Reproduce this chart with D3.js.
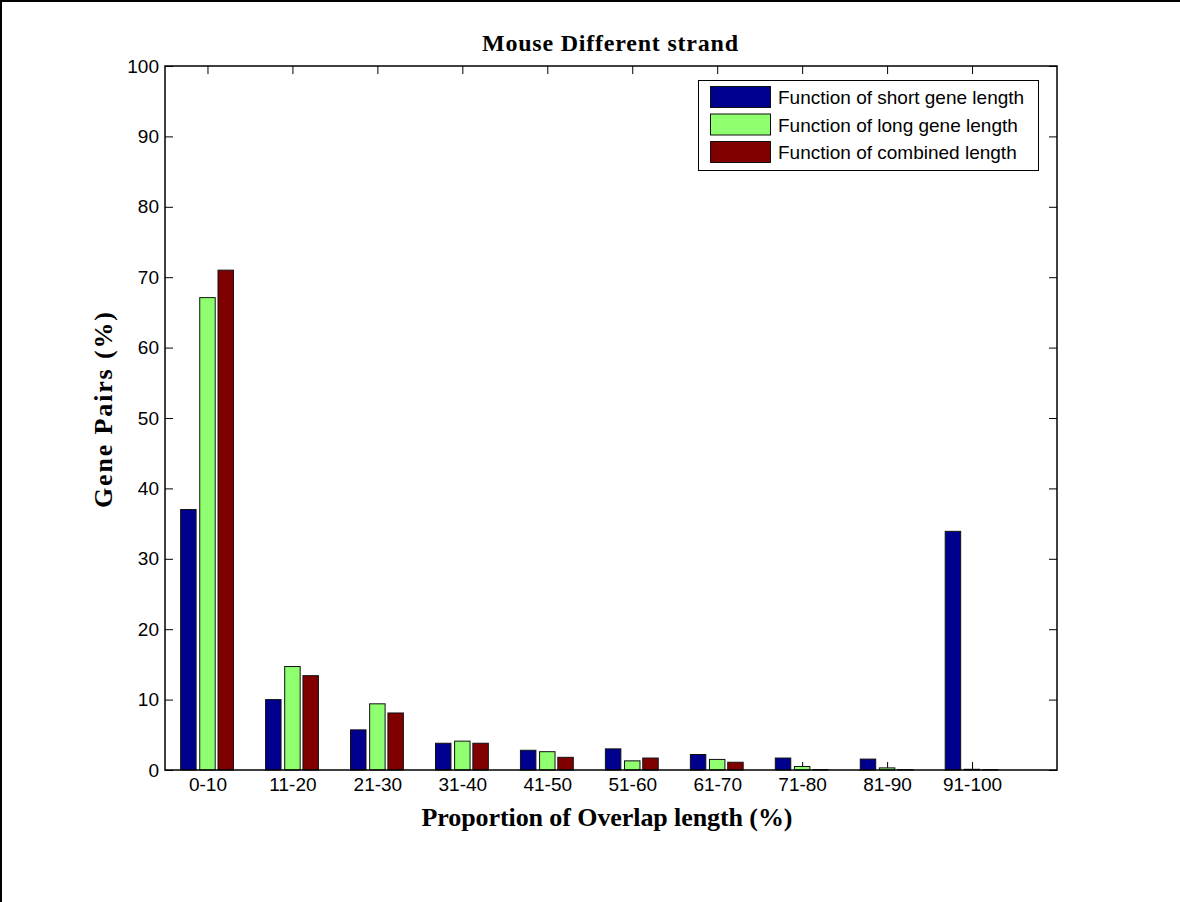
<!DOCTYPE html>
<html>
<head>
<meta charset="utf-8">
<script src="https://cdn.jsdelivr.net/npm/d3@7/dist/d3.min.js"></script>
<style>
  html, body { margin: 0; padding: 0; background: #fff; }
  svg { display: block; }
</style>
</head>
<body>
<svg id="chart" width="1180" height="902"></svg>
<script>
// Overlap-length bins and the share of gene pairs (%) in each
const categories = ["0-10", "11-20", "21-30", "31-40", "41-50", "51-60", "61-70", "71-80", "81-90", "91-100"];
const shortGene    = [37.0, 10.0, 5.7, 3.8, 2.8, 3.0, 2.2, 1.7, 1.55, 33.9];
const longGene     = [67.1, 14.7, 9.4, 4.1, 2.6, 1.3, 1.5, 0.5, 0.3, 0.1];
const combinedLen  = [71.0, 13.4, 8.1, 3.8, 1.8, 1.7, 1.1, 0.05, 0.05, 0.05];
const seriesNames  = ["Function of short gene length", "Function of long gene length", "Function of combined length"];
const yTicks = [0, 10, 20, 30, 40, 50, 60, 70, 80, 90, 100];

const seriesValues = [shortGene, longGene, combinedLen];
const colors = ["#00008f", "#8fff6f", "#800000"];
const offsets = [-0.225, 0, 0.215];
const barW = 0.182;

const svg = d3.select("#chart");
const L = 165, R = 1057, T = 66, B = 770;

const x = d3.scaleLinear().domain([0.5, 11]).range([L, R]);
const y = d3.scaleLinear().domain([0, 100]).range([B, T]);

// frame lines along the top and left edges of the figure
svg.append("line").attr("x1", 0).attr("x2", 1180).attr("y1", 1).attr("y2", 1)
  .attr("stroke", "#000").attr("stroke-width", 2);
svg.append("line").attr("x1", 1).attr("x2", 1).attr("y1", 0).attr("y2", 902)
  .attr("stroke", "#000").attr("stroke-width", 2);

// axes (ticks sit underneath the bars)
const tickFont = "Liberation Sans, Arial, Helvetica, sans-serif";
const xVals = categories.map((c, i) => i + 1);

const yLeft = d3.axisLeft(y).tickValues(yTicks).tickSizeInner(-8).tickSizeOuter(0).tickPadding(6);
const yRight = d3.axisRight(y).tickValues(yTicks).tickSizeInner(-8).tickSizeOuter(0).tickFormat("");
const xBottom = d3.axisBottom(x).tickValues(xVals).tickSizeInner(-8).tickSizeOuter(0).tickPadding(8)
  .tickFormat(d => categories[d - 1]);
const xTop = d3.axisTop(x).tickValues(xVals).tickSizeInner(-8).tickSizeOuter(0).tickFormat("");

function styleAxis(g) {
  g.select(".domain").remove();
  g.selectAll(".tick line").attr("stroke", "#000").attr("stroke-width", 1);
  g.selectAll(".tick text").attr("fill", "#000").style("font-family", tickFont).style("font-size", "19px");
}

svg.append("g").attr("transform", `translate(${L},0)`).call(yLeft).call(styleAxis);
svg.append("g").attr("transform", `translate(${R},0)`).call(yRight).call(styleAxis);
svg.append("g").attr("transform", `translate(0,${B})`).call(xBottom).call(styleAxis);
svg.append("g").attr("transform", `translate(0,${T})`).call(xTop).call(styleAxis);

// bars
seriesValues.forEach((vals, s) => {
  svg.append("g").selectAll("rect").data(vals).join("rect")
    .attr("x", (d, i) => x(i + 1 + offsets[s] - barW / 2))
    .attr("width", x(barW) - x(0))
    .attr("y", d => y(d))
    .attr("height", d => y(0) - y(d))
    .attr("fill", colors[s])
    .attr("stroke", "#111")
    .attr("stroke-width", 1);
});

// plot box on top
svg.append("rect").attr("x", L).attr("y", T).attr("width", R - L).attr("height", B - T)
  .attr("fill", "none").attr("stroke", "#000").attr("stroke-width", 1.5);

// titles
const serif = "Liberation Serif, Times New Roman, serif";
svg.append("text").attr("x", 610).attr("y", 51).attr("text-anchor", "middle")
  .style("font-family", serif).style("font-weight", "bold").style("font-size", "24px")
  .attr("textLength", 256).attr("lengthAdjust", "spacing")
  .text("Mouse Different strand");
svg.append("text").attr("x", 607).attr("y", 826).attr("text-anchor", "middle")
  .style("font-family", serif).style("font-weight", "bold").style("font-size", "26px")
  .attr("textLength", 371).attr("lengthAdjust", "spacing")
  .text("Proportion of Overlap length (%)");
svg.append("text").attr("transform", "translate(112,410) rotate(-90)").attr("text-anchor", "middle")
  .style("font-family", serif).style("font-weight", "bold").style("font-size", "26px")
  .attr("textLength", 196).attr("lengthAdjust", "spacing")
  .text("Gene Pairs (%)");

// legend
const lg = svg.append("g");
lg.append("rect").attr("x", 698.5).attr("y", 80.5).attr("width", 340).attr("height", 90)
  .attr("fill", "#fff").attr("stroke", "#000").attr("stroke-width", 1);
seriesNames.forEach((name, i) => {
  const cy = 97 + i * 27.5;
  lg.append("rect").attr("x", 710.5).attr("y", cy - 10.5).attr("width", 60).attr("height", 21)
    .attr("fill", colors[i]).attr("stroke", "#111").attr("stroke-width", 1);
  lg.append("text").attr("x", 778).attr("y", cy + 7)
    .style("font-family", tickFont).style("font-size", "19px").attr("fill", "#000")
    .text(name);
});
</script>
</body>
</html>
